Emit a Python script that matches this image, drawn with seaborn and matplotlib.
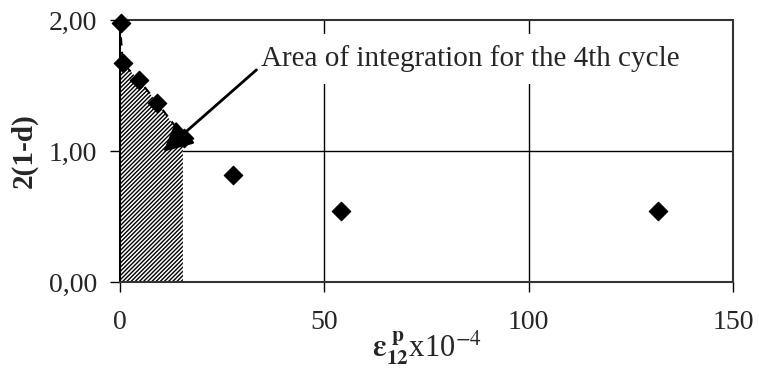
import matplotlib
matplotlib.use("Agg")
import matplotlib.pyplot as plt
from matplotlib.patches import FancyArrowPatch
import seaborn as sns
import pandas as pd

# measured damage variable vs. accumulated plastic shear strain
strain = [0.2, 0.7, 4.7, 9.1, 15.7, 27.7, 54.1, 131.5]
damage = [1.98, 1.67, 1.54, 1.37, 1.10, 0.82, 0.54, 0.54]

# points bounding the integration area (4th cycle)
area_x = [0.0, 0.7, 4.7, 9.1, 15.4]
area_top = [1.67, 1.67, 1.54, 1.37, 1.10]

x_ticks = [0, 50, 100, 150]
y_ticks = [0.0, 1.0, 2.0]
y_tick_labels = ["0,00", "1,00", "2,00"]
annotation = "Area of integration for the 4th cycle"

sns.set_style("white")
plt.rcParams["font.family"] = ["Liberation Serif", "DejaVu Serif"]
plt.rcParams["mathtext.fontset"] = "stix"
plt.rcParams["hatch.linewidth"] = 1.0

fig = plt.figure(figsize=(7.59, 3.72), dpi=100)
ax = fig.add_axes([0.158, 0.242, 0.808, 0.704])

df = pd.DataFrame({"strain": strain, "damage": damage})

ax.fill_between(area_x, 0, area_top, facecolor="white", edgecolor="black",
                hatch="////////", linewidth=0, zorder=1)
ax.plot([0, 0.7, 4.7, 9.1, 15.7], [1.98, 1.67, 1.54, 1.37, 1.10],
        color="black", lw=1.5, ls=(0, (4, 3)), zorder=2)

sns.scatterplot(data=df, x="strain", y="damage", marker="D", s=90,
                color="black", edgecolor="black", ax=ax, zorder=4, clip_on=False)

ax.set_xlim(0, 150)
ax.set_ylim(0, 2.0)
ax.set_xticks(x_ticks)
ax.set_yticks(y_ticks)
ax.set_yticklabels(y_tick_labels)
ax.tick_params(axis="both", labelsize=20, direction="out", length=7,
               width=1, color="black", left=True, bottom=True)
ax.tick_params(axis="x", pad=13.5)
ax.tick_params(axis="y", pad=9.5)

ax.axhline(1.0, color="black", lw=1, zorder=0)
for v in [50, 100]:
    ax.axvline(v, color="black", lw=1, zorder=0)

for side in ["top", "right", "bottom"]:
    ax.spines[side].set_linestyle((0, (1, 1)))
    ax.spines[side].set_color("#333333")
    ax.spines[side].set_linewidth(1.5)
ax.spines["left"].set_color("black")
ax.spines["left"].set_linewidth(1.5)

ax.set_xlabel(r"$\boldsymbol{\varepsilon}_{\mathbf{12}}^{\ \mathbf{p}}$x10$^{-4}$",
              fontsize=22, labelpad=-5)
ax.set_ylabel("2(1-d)", fontsize=21, fontweight="bold", labelpad=8)

ax.text(34.5, 1.60, annotation, fontsize=21, ha="left", va="bottom", zorder=5,
        bbox=dict(boxstyle="square,pad=0.4", facecolor="white", edgecolor="none"))
arrow = FancyArrowPatch((33.4, 1.62), (10.6, 0.995),
                        arrowstyle="-|>,head_length=0.9,head_width=0.45",
                        mutation_scale=20, color="black", lw=2,
                        shrinkA=0, shrinkB=0, zorder=6)
ax.add_patch(arrow)

fig.savefig("out.png", dpi=100)
